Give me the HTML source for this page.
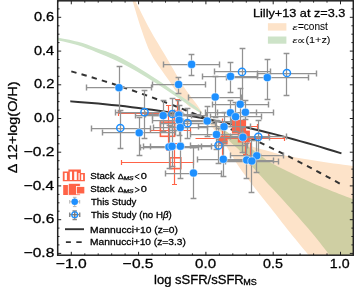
<!DOCTYPE html><html><head><meta charset="utf-8"><style>html,body{margin:0;padding:0;background:#fff;overflow:hidden}svg{display:block;will-change:transform}</style></head><body><svg width="354" height="287" viewBox="0 0 354 287"><defs><clipPath id="ax"><rect x="57.8" y="0.8" width="295.5" height="254.4"/></clipPath></defs><g clip-path="url(#ax)">
<path d="M132.00,-1.00 C133.60,4.17 138.33,20.67 141.60,30.00 C144.87,39.33 147.10,46.67 151.60,55.00 C156.10,63.33 164.43,73.83 168.60,80.00 C172.77,86.17 173.45,87.83 176.60,92.00 C179.75,96.17 183.10,101.33 187.50,105.00 C191.90,108.67 200.42,112.50 203.00,114.00L203.00,114.00 C202.03,112.50 199.80,108.67 197.20,105.00 C194.60,101.33 190.33,96.17 187.40,92.00 C184.47,87.83 183.33,86.17 179.60,80.00 C175.87,73.83 169.90,63.33 165.00,55.00 C160.10,46.67 155.30,39.33 150.20,30.00 C145.10,20.67 137.03,4.17 134.40,-1.00 Z" fill="#fde3c9"/>
<path d="M203.00,114.00 C205.00,115.67 210.50,120.58 215.00,124.00 C219.50,127.42 224.17,130.92 230.00,134.50 C235.83,138.08 243.33,142.67 250.00,145.50 C256.67,148.33 264.33,149.88 270.00,151.50 C275.67,153.12 275.83,153.58 284.00,155.20 C292.17,156.82 307.33,159.37 319.00,161.20 C330.67,163.03 348.17,165.37 354.00,166.20 L354,256.2L309.50,256.20 C306.18,252.17 296.18,240.18 289.60,232.00 C283.02,223.82 278.07,217.43 270.00,207.10 C261.93,196.77 248.83,180.73 241.20,170.00 C233.57,159.27 228.90,149.70 224.20,142.70 C219.50,135.70 216.53,132.78 213.00,128.00 C209.47,123.22 204.67,116.33 203.00,114.00 Z" fill="#fde3c9"/>
<path d="M57.00,37.50 C60.50,38.22 71.50,40.07 78.00,41.80 C84.50,43.53 89.67,45.67 96.00,47.90 C102.33,50.13 109.33,52.15 116.00,55.20 C122.67,58.25 129.17,62.15 136.00,66.20 C142.83,70.25 150.33,75.07 157.00,79.50 C163.67,83.93 169.50,88.27 176.00,92.80 C182.50,97.33 191.50,103.17 196.00,106.70 C200.50,110.23 201.83,112.78 203.00,114.00L203.00,114.00 C201.83,113.33 200.50,112.92 196.00,110.00 C191.50,107.08 182.67,100.97 176.00,96.50 C169.33,92.03 162.67,87.45 156.00,83.20 C149.33,78.95 142.67,74.77 136.00,71.00 C129.33,67.23 122.67,63.78 116.00,60.60 C109.33,57.42 102.33,54.47 96.00,51.90 C89.67,49.33 84.50,47.20 78.00,45.20 C71.50,43.20 60.50,40.78 57.00,39.90 Z" fill="#cde3c8"/>
<path d="M203.00,114.00 C205.83,116.17 214.50,123.00 220.00,127.00 C225.50,131.00 230.00,133.83 236.00,138.00 C242.00,142.17 250.33,147.95 256.00,152.00 C261.67,156.05 265.33,159.38 270.00,162.30 C274.67,165.22 276.67,165.93 284.00,169.50 C291.33,173.07 302.33,178.70 314.00,183.70 C325.67,188.70 347.33,196.87 354.00,199.50 L354,256.2L330.50,256.20 C327.28,252.17 319.12,241.37 311.20,232.00 C303.28,222.63 292.32,210.33 283.00,200.00 C273.68,189.67 262.27,178.00 255.30,170.00 C248.33,162.00 245.67,157.02 241.20,152.00 C236.73,146.98 232.87,144.57 228.50,139.90 C224.13,135.23 219.25,128.32 215.00,124.00 C210.75,119.68 205.00,115.67 203.00,114.00 Z" fill="#cfcfa3"/>
<path d="M71.3,101.4 L78.0,101.9 L84.8,102.4 L91.5,102.9 L98.2,103.5 L105.0,104.2 L111.7,104.9 L118.4,105.6 L125.1,106.3 L131.9,107.2 L138.6,108.0 L145.3,108.9 L152.1,109.8 L158.8,110.8 L165.5,111.8 L172.2,112.9 L179.0,114.0 L185.7,115.1 L192.4,116.3 L199.2,117.6 L205.9,118.8 L212.6,120.2 L219.4,121.5 L226.1,122.9 L232.8,124.4 L239.6,125.8 L246.3,127.4 L253.0,128.9 L259.7,130.5 L266.5,132.2 L273.2,133.9 L279.9,135.6 L286.7,137.4 L293.4,139.2 L300.1,141.1 L306.9,143.0 L313.6,144.9 L320.3,146.9 L327.0,149.0 L333.8,151.0 L340.5,153.1" fill="none" stroke="#333" stroke-width="2" stroke-linecap="square"/>
<path d="M71.3,71.4 L78.0,73.3 L84.8,75.2 L91.5,77.2 L98.2,79.3 L105.0,81.4 L111.7,83.5 L118.4,85.7 L125.1,88.0 L131.9,90.2 L138.6,92.6 L145.3,95.0 L152.1,97.4 L158.8,99.8 L165.5,102.4 L172.2,104.9 L179.0,107.5 L185.7,110.2 L192.4,112.9 L199.2,115.6 L205.9,118.4 L212.6,121.3 L219.4,124.1 L226.1,127.1 L232.8,130.0 L239.6,133.1 L246.3,136.1 L253.0,139.3 L259.7,142.4 L266.5,145.6 L273.2,148.9 L279.9,152.2 L286.7,155.5 L293.4,158.9 L300.1,162.4 L306.9,165.9 L313.6,169.4 L320.3,173.0 L327.0,176.6 L333.8,180.3 L340.5,184.0" fill="none" stroke="#333" stroke-width="2" stroke-dasharray="5.4,5.2"/>
<path d="M121.5,162.5H193.5M121.5,160.0V165.0M193.5,160.0V165.0M174.5,143.5V184.5M172.0,143.5H177.0M172.0,184.5H177.0M150.5,130.5H190.5M150.5,128.0V133.0M190.5,128.0V133.0M168.5,105.5V150.5M166.0,105.5H171.0M166.0,150.5H171.0M177.5,99.5V122.5M175.0,99.5H180.0M118.5,113.5H165.5M118.5,111.0V116.0M220.5,126.5H257.5M220.5,124.0V129.0M257.5,124.0V129.0M239.5,132.5V140.5M219.5,136.5H268.5M219.5,134.0V139.0M268.5,134.0V139.0M245.5,118.5V154.5M243.0,154.5H248.0M195.5,138.5H284.5M284.5,136.0V141.0M222.5,118.5V157.5M220.0,157.5H225.0M250.5,142.5V165.5" stroke="#ff6347" stroke-width="1.2" fill="none"/>
<rect x="160.4" y="122.1" width="14.2" height="14.2" fill="none" stroke="#ff6347" stroke-width="1.6"/>
<rect x="169.9" y="157.8" width="10.9" height="10.8" fill="none" stroke="#ff6347" stroke-width="1.6"/>
<rect x="174.3" y="111.3" width="6.6" height="9.4" fill="none" stroke="#ff6347" stroke-width="1.6"/>
<rect x="231.9" y="119.8" width="13.9" height="13.8" fill="#ff6347"/>
<rect x="218.8" y="135.6" width="8.8" height="8.8" fill="#ff6347"/>
<rect x="237.8" y="130.6" width="12.1" height="11.9" fill="#ff6347"/>
<path d="M86.5,87.5H151.5M119.5,66.5V112.5" stroke="#929292" stroke-width="1.25" fill="none"/>
<path d="M86.5,84.6V90.4M151.5,84.6V90.4M116.6,66.5H122.4M116.6,112.5H122.4" stroke="#929292" stroke-width="1.45" fill="none"/>
<path d="M163.5,64.5H219.5M191.5,54.5V75.5" stroke="#929292" stroke-width="1.25" fill="none"/>
<path d="M163.5,61.6V67.4M219.5,61.6V67.4M188.6,54.5H194.4M188.6,75.5H194.4" stroke="#929292" stroke-width="1.45" fill="none"/>
<path d="M152.5,84.5H205.5M178.5,77.5V93.5" stroke="#929292" stroke-width="1.25" fill="none"/>
<path d="M152.5,81.6V87.4M205.5,81.6V87.4M175.6,77.5H181.4M175.6,93.5H181.4" stroke="#929292" stroke-width="1.45" fill="none"/>
<path d="M202.5,76.5H257.5M230.5,62.5V92.5" stroke="#929292" stroke-width="1.25" fill="none"/>
<path d="M202.5,73.6V79.4M257.5,73.6V79.4M227.6,62.5H233.4M227.6,92.5H233.4" stroke="#929292" stroke-width="1.45" fill="none"/>
<path d="M214.5,71.5H270.5M242.5,48.5V102.5" stroke="#929292" stroke-width="1.25" fill="none"/>
<path d="M214.5,68.6V74.4M270.5,68.6V74.4M239.6,48.5H245.4M239.6,102.5H245.4" stroke="#929292" stroke-width="1.45" fill="none"/>
<path d="M226.5,77.5H308.5M267.5,59.5V99.5" stroke="#929292" stroke-width="1.25" fill="none"/>
<path d="M226.5,74.6V80.4M308.5,74.6V80.4M264.6,59.5H270.4M264.6,99.5H270.4" stroke="#929292" stroke-width="1.45" fill="none"/>
<path d="M257.5,73.5H316.5M286.5,53.5V95.5" stroke="#929292" stroke-width="1.25" fill="none"/>
<path d="M257.5,70.6V76.4M316.5,70.6V76.4M283.6,53.5H289.4M283.6,95.5H289.4" stroke="#929292" stroke-width="1.45" fill="none"/>
<path d="M188.5,97.5H241.5M215.5,76.5V117.5" stroke="#929292" stroke-width="1.25" fill="none"/>
<path d="M188.5,94.6V100.4M241.5,94.6V100.4M212.6,76.5H218.4M212.6,117.5H218.4" stroke="#929292" stroke-width="1.45" fill="none"/>
<path d="M212.5,104.5H268.5M240.5,88.5V132.5" stroke="#929292" stroke-width="1.25" fill="none"/>
<path d="M212.5,101.6V107.4M268.5,101.6V107.4M237.6,88.5H243.4M237.6,132.5H243.4" stroke="#929292" stroke-width="1.45" fill="none"/>
<path d="M205.5,112.5H256.5M230.5,100.5V126.5" stroke="#929292" stroke-width="1.25" fill="none"/>
<path d="M205.5,109.6V115.4M256.5,109.6V115.4M227.6,100.5H233.4M227.6,126.5H233.4" stroke="#929292" stroke-width="1.45" fill="none"/>
<path d="M217.5,112.5H273.5M245.5,100.5V119.5" stroke="#929292" stroke-width="1.25" fill="none"/>
<path d="M217.5,109.6V115.4M273.5,109.6V115.4M242.6,100.5H248.4M242.6,119.5H248.4" stroke="#929292" stroke-width="1.45" fill="none"/>
<path d="M210.5,116.5H261.5M235.5,102.5V131.5" stroke="#929292" stroke-width="1.25" fill="none"/>
<path d="M210.5,113.6V119.4M261.5,113.6V119.4M232.6,102.5H238.4M232.6,131.5H238.4" stroke="#929292" stroke-width="1.45" fill="none"/>
<path d="M198.5,126.5H250.5M224.5,112.5V141.5" stroke="#929292" stroke-width="1.25" fill="none"/>
<path d="M198.5,123.6V129.4M250.5,123.6V129.4M221.6,112.5H227.4M221.6,141.5H227.4" stroke="#929292" stroke-width="1.45" fill="none"/>
<path d="M190.5,134.5H243.5M216.5,120.5V149.5" stroke="#929292" stroke-width="1.25" fill="none"/>
<path d="M190.5,131.6V137.4M243.5,131.6V137.4M213.6,120.5H219.4M213.6,149.5H219.4" stroke="#929292" stroke-width="1.45" fill="none"/>
<path d="M217.5,137.5H269.5M242.5,127.5V152.5" stroke="#929292" stroke-width="1.25" fill="none"/>
<path d="M217.5,134.6V140.4M269.5,134.6V140.4M239.6,127.5H245.4M239.6,152.5H245.4" stroke="#929292" stroke-width="1.45" fill="none"/>
<path d="M230.5,136.5H286.5M258.5,120.5V154.5" stroke="#929292" stroke-width="1.25" fill="none"/>
<path d="M230.5,133.6V139.4M286.5,133.6V139.4M255.6,120.5H261.4M255.6,154.5H261.4" stroke="#929292" stroke-width="1.45" fill="none"/>
<path d="M190.5,145.5H247.5M218.5,128.5V163.5" stroke="#929292" stroke-width="1.25" fill="none"/>
<path d="M190.5,142.6V148.4M247.5,142.6V148.4M215.6,128.5H221.4M215.6,163.5H221.4" stroke="#929292" stroke-width="1.45" fill="none"/>
<path d="M230.5,155.5H283.5M256.5,140.5V172.5" stroke="#929292" stroke-width="1.25" fill="none"/>
<path d="M230.5,152.6V158.4M283.5,152.6V158.4M253.6,140.5H259.4M253.6,172.5H259.4" stroke="#929292" stroke-width="1.45" fill="none"/>
<path d="M197.5,159.5H250.5M223.5,143.5V176.5" stroke="#929292" stroke-width="1.25" fill="none"/>
<path d="M197.5,156.6V162.4M250.5,156.6V162.4M220.6,143.5H226.4M220.6,176.5H226.4" stroke="#929292" stroke-width="1.45" fill="none"/>
<path d="M220.5,160.5H273.5M246.5,143.5V178.5" stroke="#929292" stroke-width="1.25" fill="none"/>
<path d="M220.5,157.6V163.4M273.5,157.6V163.4M243.6,143.5H249.4M243.6,178.5H249.4" stroke="#929292" stroke-width="1.45" fill="none"/>
<path d="M225.5,161.5H278.5M251.5,140.5V192.5" stroke="#929292" stroke-width="1.25" fill="none"/>
<path d="M225.5,158.6V164.4M278.5,158.6V164.4M248.6,140.5H254.4M248.6,192.5H254.4" stroke="#929292" stroke-width="1.45" fill="none"/>
<path d="M165.5,173.5H221.5M193.5,147.5V198.5" stroke="#929292" stroke-width="1.25" fill="none"/>
<path d="M165.5,170.6V176.4M221.5,170.6V176.4M190.6,147.5H196.4M190.6,198.5H196.4" stroke="#929292" stroke-width="1.45" fill="none"/>
<path d="M150.5,146.5H211.5M180.5,114.5V178.5" stroke="#929292" stroke-width="1.25" fill="none"/>
<path d="M150.5,143.6V149.4M211.5,143.6V149.4M177.6,114.5H183.4M177.6,178.5H183.4" stroke="#929292" stroke-width="1.45" fill="none"/>
<path d="M140.5,147.5H198.5M169.5,125.5V168.5" stroke="#929292" stroke-width="1.25" fill="none"/>
<path d="M140.5,144.6V150.4M198.5,144.6V150.4M166.6,125.5H172.4M166.6,168.5H172.4" stroke="#929292" stroke-width="1.45" fill="none"/>
<path d="M143.5,146.5H201.5M172.5,126.5V166.5" stroke="#929292" stroke-width="1.25" fill="none"/>
<path d="M143.5,143.6V149.4M201.5,143.6V149.4M169.6,126.5H175.4M169.6,166.5H175.4" stroke="#929292" stroke-width="1.45" fill="none"/>
<path d="M135.5,115.5H191.5M163.5,100.5V131.5" stroke="#929292" stroke-width="1.25" fill="none"/>
<path d="M135.5,112.6V118.4M191.5,112.6V118.4M160.6,100.5H166.4M160.6,131.5H166.4" stroke="#929292" stroke-width="1.45" fill="none"/>
<path d="M145.5,114.5H200.5M172.5,98.5V130.5" stroke="#929292" stroke-width="1.25" fill="none"/>
<path d="M145.5,111.6V117.4M200.5,111.6V117.4M169.6,98.5H175.4M169.6,130.5H175.4" stroke="#929292" stroke-width="1.45" fill="none"/>
<path d="M152.5,115.5H206.5M178.5,100.5V130.5" stroke="#929292" stroke-width="1.25" fill="none"/>
<path d="M152.5,112.6V118.4M206.5,112.6V118.4M175.6,100.5H181.4M175.6,130.5H181.4" stroke="#929292" stroke-width="1.45" fill="none"/>
<path d="M152.5,120.5H206.5M179.5,105.5V135.5" stroke="#929292" stroke-width="1.25" fill="none"/>
<path d="M152.5,117.6V123.4M206.5,117.6V123.4M176.6,105.5H182.4M176.6,135.5H182.4" stroke="#929292" stroke-width="1.45" fill="none"/>
<path d="M153.5,127.5H207.5M180.5,112.5V143.5" stroke="#929292" stroke-width="1.25" fill="none"/>
<path d="M153.5,124.6V130.4M207.5,124.6V130.4M177.6,112.5H183.4M177.6,143.5H183.4" stroke="#929292" stroke-width="1.45" fill="none"/>
<path d="M160.5,123.5H215.5M187.5,108.5V138.5" stroke="#929292" stroke-width="1.25" fill="none"/>
<path d="M160.5,120.6V126.4M215.5,120.6V126.4M184.6,108.5H190.4M184.6,138.5H190.4" stroke="#929292" stroke-width="1.45" fill="none"/>
<path d="M183.5,121.5H231.5M207.5,106.5V136.5" stroke="#929292" stroke-width="1.25" fill="none"/>
<path d="M183.5,118.6V124.4M231.5,118.6V124.4M204.6,106.5H210.4M204.6,136.5H210.4" stroke="#929292" stroke-width="1.45" fill="none"/>
<path d="M115.5,112.5H174.5M144.5,90.5V138.5" stroke="#929292" stroke-width="1.25" fill="none"/>
<path d="M115.5,109.6V115.4M174.5,109.6V115.4M141.6,90.5H147.4M141.6,138.5H147.4" stroke="#929292" stroke-width="1.45" fill="none"/>
<path d="M102.5,132.5H175.5M139.5,117.5V155.5" stroke="#929292" stroke-width="1.25" fill="none"/>
<path d="M102.5,129.6V135.4M175.5,129.6V135.4M136.6,117.5H142.4M136.6,155.5H142.4" stroke="#929292" stroke-width="1.45" fill="none"/>
<path d="M91.5,128.5H150.5M120.5,110.5V148.5" stroke="#929292" stroke-width="1.25" fill="none"/>
<path d="M91.5,125.6V131.4M150.5,125.6V131.4M117.6,110.5H123.4M117.6,148.5H123.4" stroke="#929292" stroke-width="1.45" fill="none"/>
<circle cx="119.0" cy="87.7" r="4.05" fill="#1e90ff" stroke="#fff" stroke-width="0.5"/>
<circle cx="191.6" cy="64.4" r="4.05" fill="#1e90ff" stroke="#fff" stroke-width="0.5"/>
<circle cx="178.6" cy="84.5" r="4.05" fill="#1e90ff" stroke="#fff" stroke-width="0.5"/>
<circle cx="230.5" cy="76.4" r="4.05" fill="#1e90ff" stroke="#fff" stroke-width="0.5"/>
<circle cx="242.0" cy="71.9" r="3.6" fill="none" stroke="#1e90ff" stroke-width="1.5"/>
<circle cx="267.3" cy="77.6" r="4.05" fill="#1e90ff" stroke="#fff" stroke-width="0.5"/>
<circle cx="286.9" cy="73.0" r="3.6" fill="none" stroke="#1e90ff" stroke-width="1.5"/>
<circle cx="215.2" cy="97.0" r="4.05" fill="#1e90ff" stroke="#fff" stroke-width="0.5"/>
<circle cx="240.2" cy="104.3" r="4.05" fill="#1e90ff" stroke="#fff" stroke-width="0.5"/>
<circle cx="230.5" cy="112.8" r="4.05" fill="#1e90ff" stroke="#fff" stroke-width="0.5"/>
<circle cx="245.4" cy="112.3" r="4.05" fill="#1e90ff" stroke="#fff" stroke-width="0.5"/>
<circle cx="235.6" cy="116.7" r="4.05" fill="#1e90ff" stroke="#fff" stroke-width="0.5"/>
<circle cx="224.0" cy="126.7" r="4.05" fill="#1e90ff" stroke="#fff" stroke-width="0.5"/>
<circle cx="216.5" cy="134.5" r="4.05" fill="#1e90ff" stroke="#fff" stroke-width="0.5"/>
<circle cx="242.9" cy="137.2" r="4.05" fill="#1e90ff" stroke="#fff" stroke-width="0.5"/>
<circle cx="258.3" cy="136.8" r="3.6" fill="none" stroke="#1e90ff" stroke-width="1.5"/>
<circle cx="218.5" cy="145.4" r="3.6" fill="none" stroke="#1e90ff" stroke-width="1.5"/>
<circle cx="256.7" cy="155.8" r="4.05" fill="#1e90ff" stroke="#fff" stroke-width="0.5"/>
<circle cx="223.3" cy="159.2" r="4.05" fill="#1e90ff" stroke="#fff" stroke-width="0.5"/>
<circle cx="246.7" cy="160.0" r="4.05" fill="#1e90ff" stroke="#fff" stroke-width="0.5"/>
<circle cx="251.8" cy="161.0" r="4.05" fill="#1e90ff" stroke="#fff" stroke-width="0.5"/>
<circle cx="193.5" cy="173.0" r="4.05" fill="#1e90ff" stroke="#fff" stroke-width="0.5"/>
<circle cx="180.4" cy="146.3" r="4.05" fill="#1e90ff" stroke="#fff" stroke-width="0.5"/>
<circle cx="169.0" cy="147.0" r="4.05" fill="#1e90ff" stroke="#fff" stroke-width="0.5"/>
<circle cx="172.0" cy="146.4" r="4.05" fill="#1e90ff" stroke="#fff" stroke-width="0.5"/>
<circle cx="163.2" cy="115.6" r="4.05" fill="#1e90ff" stroke="#fff" stroke-width="0.5"/>
<circle cx="172.3" cy="114.0" r="3.6" fill="none" stroke="#1e90ff" stroke-width="1.5"/>
<circle cx="178.8" cy="115.0" r="4.05" fill="#1e90ff" stroke="#fff" stroke-width="0.5"/>
<circle cx="179.2" cy="120.3" r="4.05" fill="#1e90ff" stroke="#fff" stroke-width="0.5"/>
<circle cx="180.3" cy="127.5" r="4.05" fill="#1e90ff" stroke="#fff" stroke-width="0.5"/>
<circle cx="187.5" cy="123.2" r="3.6" fill="none" stroke="#1e90ff" stroke-width="1.5"/>
<circle cx="207.2" cy="121.0" r="4.05" fill="#1e90ff" stroke="#fff" stroke-width="0.5"/>
<circle cx="144.5" cy="112.2" r="3.6" fill="none" stroke="#1e90ff" stroke-width="1.5"/>
<circle cx="139.2" cy="132.8" r="4.05" fill="#1e90ff" stroke="#fff" stroke-width="0.5"/>
<circle cx="120.3" cy="128.0" r="3.6" fill="none" stroke="#1e90ff" stroke-width="1.5"/>
</g>
<path d="M57.8,255.2V253.4M57.8,0.8V2.6M71.3,255.2V251.8M71.3,0.8V4.3M84.8,255.2V253.4M84.8,0.8V2.6M98.2,255.2V253.4M98.2,0.8V2.6M111.7,255.2V253.4M111.7,0.8V2.6M125.1,255.2V253.4M125.1,0.8V2.6M138.6,255.2V251.8M138.6,0.8V4.3M152.1,255.2V253.4M152.1,0.8V2.6M165.5,255.2V253.4M165.5,0.8V2.6M179.0,255.2V253.4M179.0,0.8V2.6M192.4,255.2V253.4M192.4,0.8V2.6M205.9,255.2V251.8M205.9,0.8V4.3M219.4,255.2V253.4M219.4,0.8V2.6M232.8,255.2V253.4M232.8,0.8V2.6M246.3,255.2V253.4M246.3,0.8V2.6M259.7,255.2V253.4M259.7,0.8V2.6M273.2,255.2V251.8M273.2,0.8V4.3M286.7,255.2V253.4M286.7,0.8V2.6M300.1,255.2V253.4M300.1,0.8V2.6M313.6,255.2V253.4M313.6,0.8V2.6M327.0,255.2V253.4M327.0,0.8V2.6M340.5,255.2V251.8M340.5,0.8V4.3M354.0,255.2V253.4M354.0,0.8V2.6M57.7,253.4H61.2M353.2,253.4H349.8M57.7,244.9H59.5M353.2,244.9H351.4M57.7,236.5H59.5M353.2,236.5H351.4M57.7,228.1H59.5M353.2,228.1H351.4M57.7,219.7H61.2M353.2,219.7H349.8M57.7,211.2H59.5M353.2,211.2H351.4M57.7,202.8H59.5M353.2,202.8H351.4M57.7,194.4H59.5M353.2,194.4H351.4M57.7,185.9H61.2M353.2,185.9H349.8M57.7,177.5H59.5M353.2,177.5H351.4M57.7,169.1H59.5M353.2,169.1H351.4M57.7,160.7H59.5M353.2,160.7H351.4M57.7,152.2H61.2M353.2,152.2H349.8M57.7,143.8H59.5M353.2,143.8H351.4M57.7,135.4H59.5M353.2,135.4H351.4M57.7,126.9H59.5M353.2,126.9H351.4M57.7,118.5H61.2M353.2,118.5H349.8M57.7,110.1H59.5M353.2,110.1H351.4M57.7,101.6H59.5M353.2,101.6H351.4M57.7,93.2H59.5M353.2,93.2H351.4M57.7,84.8H61.2M353.2,84.8H349.8M57.7,76.3H59.5M353.2,76.3H351.4M57.7,67.9H59.5M353.2,67.9H351.4M57.7,59.5H59.5M353.2,59.5H351.4M57.7,51.1H61.2M353.2,51.1H349.8M57.7,42.6H59.5M353.2,42.6H351.4M57.7,34.2H59.5M353.2,34.2H351.4M57.7,25.8H59.5M353.2,25.8H351.4M57.7,17.3H61.2M353.2,17.3H349.8M57.7,8.9H59.5M353.2,8.9H351.4" stroke="#222" stroke-width="1" fill="none"/>
<rect x="57.7" y="0.8" width="295.6" height="254.4" fill="none" stroke="#222" stroke-width="1.5"/>
<text transform="matrix(0.14580 0 0 0.12817 33.917 20.912)" font-size="100" font-family="Liberation Sans, sans-serif" fill="#000" stroke="#000" stroke-width="2.34">0.6</text>
<text transform="matrix(0.14470 0 0 0.12817 33.921 54.632)" font-size="100" font-family="Liberation Sans, sans-serif" fill="#000" stroke="#000" stroke-width="2.35">0.4</text>
<text transform="matrix(0.14692 0 0 0.12817 33.912 88.352)" font-size="100" font-family="Liberation Sans, sans-serif" fill="#000" stroke="#000" stroke-width="2.33">0.2</text>
<text transform="matrix(0.14580 0 0 0.12817 33.917 122.072)" font-size="100" font-family="Liberation Sans, sans-serif" fill="#000" stroke="#000" stroke-width="2.34">0.0</text>
<text transform="matrix(0.15561 0 0 0.12817 23.722 155.792)" font-size="100" font-family="Liberation Sans, sans-serif" fill="#000" stroke="#000" stroke-width="2.27">−0.2</text>
<text transform="matrix(0.15397 0 0 0.12817 23.730 189.512)" font-size="100" font-family="Liberation Sans, sans-serif" fill="#000" stroke="#000" stroke-width="2.28">−0.4</text>
<text transform="matrix(0.15479 0 0 0.12817 23.726 223.232)" font-size="100" font-family="Liberation Sans, sans-serif" fill="#000" stroke="#000" stroke-width="2.27">−0.6</text>
<text transform="matrix(0.15479 0 0 0.12817 23.726 256.952)" font-size="100" font-family="Liberation Sans, sans-serif" fill="#000" stroke="#000" stroke-width="2.27">−0.8</text>
<text transform="matrix(0.15638 0 0 0.13521 55.918 268.065)" font-size="100" font-family="Liberation Sans, sans-serif" fill="#000" stroke="#000" stroke-width="2.20">−1.0</text>
<text transform="matrix(0.15532 0 0 0.13521 122.823 268.065)" font-size="100" font-family="Liberation Sans, sans-serif" fill="#000" stroke="#000" stroke-width="2.21">−0.5</text>
<text transform="matrix(0.15115 0 0 0.13521 195.095 268.065)" font-size="100" font-family="Liberation Sans, sans-serif" fill="#000" stroke="#000" stroke-width="2.24">0.0</text>
<text transform="matrix(0.14275 0 0 0.13521 263.029 268.065)" font-size="100" font-family="Liberation Sans, sans-serif" fill="#000" stroke="#000" stroke-width="2.30">0.5</text>
<text transform="matrix(0.14173 0 0 0.13521 329.866 268.065)" font-size="100" font-family="Liberation Sans, sans-serif" fill="#000" stroke="#000" stroke-width="2.31">1.0</text>
<text transform="matrix(0.13043 0 0 0.12055 153.987 283.800)" font-size="100" font-family="Liberation Sans, sans-serif" fill="#000" stroke="#000" stroke-width="2.39">log sSFR/sSFR</text>
<text transform="matrix(0.09051 0 0 0.08143 243.276 285.300)" font-size="100" font-family="Liberation Sans, sans-serif" fill="#000" stroke="#000" stroke-width="3.49">MS</text>
<text transform="matrix(0 -0.14418 0.12609 0 16.500 173.133)" font-size="100" font-family="Liberation Sans, sans-serif" fill="#000" stroke="#000" stroke-width="2.23">Δ 12+log(O/H)</text>
<text transform="matrix(0.12696 0 0 0.11781 252.984 16.800)" font-size="100" font-family="Liberation Sans, sans-serif" fill="#000" stroke="#000" stroke-width="2.45">Lilly+13 at z=3.3</text>
<text transform="matrix(0.11628 0 0 0.06727 292.467 29.833)" font-size="100" font-family="Liberation Sans, sans-serif" fill="#000" stroke="#000" stroke-width="0.57"><tspan font-style="italic">ε</tspan></text>
<text transform="matrix(0.10103 0 0 0.10312 297.895 29.700)" font-size="100" font-family="Liberation Sans, sans-serif" fill="#000" stroke="#000" stroke-width="0.49">=const</text>
<text transform="matrix(0.11163 0 0 0.07818 292.477 42.822)" font-size="100" font-family="Liberation Sans, sans-serif" fill="#000" stroke="#000" stroke-width="0.54"><tspan font-style="italic">ε</tspan></text>
<text transform="matrix(0.12000 0 0 0.10263 297.380 44.029)" font-size="100" font-family="Liberation Sans, sans-serif" fill="#000" stroke="#000" stroke-width="0.45">∝</text>
<text transform="matrix(0.10872 0 0 0.08191 305.448 42.680)" font-size="100" font-family="Liberation Sans, sans-serif" fill="#000" stroke="#000" stroke-width="0.53">(1+z)</text>
<rect x="267.9" y="23.2" width="18.5" height="7.4" fill="#fde3c9"/>
<rect x="267.9" y="36.5" width="18.5" height="7.2" fill="#cde3c8"/>
<text transform="matrix(0.09714 0 0 0.09452 90.214 178.500)" font-size="100" font-family="Liberation Sans, sans-serif" fill="#000" stroke="#000" stroke-width="3.13">Stack</text>
<text transform="matrix(0.08852 0 0 0.07391 117.634 178.700)" font-size="100" font-family="Liberation Sans, sans-serif" fill="#000" stroke="#000" stroke-width="3.71">Δ</text>
<g transform="translate(123.300 179.900) skewX(-10) translate(-123.300 -179.900)"><text transform="matrix(0.06715 0 0 0.05429 123.263 179.900)" font-size="100" font-family="Liberation Sans, sans-serif" fill="#000" stroke="#000" stroke-width="4.97">MS</text></g>
<path d="M139.4,174.2L134.9,176.6L139.4,179.0" fill="none" stroke="#000" stroke-width="0.95"/>
<text transform="matrix(0.11042 0 0 0.09859 140.658 179.201)" font-size="100" font-family="Liberation Sans, sans-serif" fill="#000" stroke="#000" stroke-width="2.88">0</text>
<text transform="matrix(0.09714 0 0 0.09452 90.214 191.700)" font-size="100" font-family="Liberation Sans, sans-serif" fill="#000" stroke="#000" stroke-width="3.13">Stack</text>
<text transform="matrix(0.08852 0 0 0.07391 117.634 191.900)" font-size="100" font-family="Liberation Sans, sans-serif" fill="#000" stroke="#000" stroke-width="3.71">Δ</text>
<g transform="translate(123.300 193.100) skewX(-10) translate(-123.300 -193.100)"><text transform="matrix(0.06715 0 0 0.05429 123.263 193.100)" font-size="100" font-family="Liberation Sans, sans-serif" fill="#000" stroke="#000" stroke-width="4.97">MS</text></g>
<path d="M134.9,187.4L139.4,189.8L134.9,192.2" fill="none" stroke="#000" stroke-width="0.95"/>
<text transform="matrix(0.11042 0 0 0.09859 140.658 192.401)" font-size="100" font-family="Liberation Sans, sans-serif" fill="#000" stroke="#000" stroke-width="2.88">0</text>
<text transform="matrix(0.09660 0 0 0.09315 90.907 205.200)" font-size="100" font-family="Liberation Sans, sans-serif" fill="#000" stroke="#000" stroke-width="3.16">This Study</text>
<text transform="matrix(0.09674 0 0 0.09589 90.907 218.400)" font-size="100" font-family="Liberation Sans, sans-serif" fill="#000" stroke="#000" stroke-width="3.11">This Study (no H<tspan font-style="italic">β</tspan>)</text>
<text transform="matrix(0.10285 0 0 0.09452 90.077 232.500)" font-size="100" font-family="Liberation Sans, sans-serif" fill="#000" stroke="#000" stroke-width="3.04">Mannucci+10 (z=0)</text>
<text transform="matrix(0.10205 0 0 0.09589 90.084 245.400)" font-size="100" font-family="Liberation Sans, sans-serif" fill="#000" stroke="#000" stroke-width="3.03">Mannucci+10 (z=3.3)</text>
<path d="M62.8,181.3V171.4H68.4V169.6H80.9V172.9H84.9V181.3Z" fill="#ff6347"/>
<rect x="64.6" y="173.0" width="2.3" height="7.0" fill="#fff"/>
<rect x="69.8" y="171.6" width="2.2" height="8.4" fill="#fff"/>
<rect x="74.2" y="171.6" width="2.6" height="8.4" fill="#fff"/>
<rect x="78.5" y="173.0" width="1.2" height="7.0" fill="#fff"/>
<rect x="81.2" y="174.4" width="1.9" height="5.6" fill="#fff"/>
<rect x="63.2" y="185" width="9" height="10" fill="#ff6347"/>
<rect x="68.3" y="183.3" width="12" height="12" fill="#ff6347" stroke="#fff" stroke-width="0.8"/>
<rect x="76.4" y="186.5" width="8.4" height="7.4" fill="#ff6347" stroke="#fff" stroke-width="0.8"/>
<path d="M69.7,201.8H79.7M74.7,197.3V206.6" stroke="#b5b5b5" stroke-width="1.0" fill="none"/>
<path d="M69.7,200.0V203.6M79.7,200.0V203.6M72.9,197.3H76.5M72.9,206.6H76.5" stroke="#b5b5b5" stroke-width="1.0" fill="none"/>
<circle cx="74.7" cy="201.8" r="3.3" fill="#1e90ff"/>
<path d="M69.7,214.7H79.7M74.7,210.9V219.5" stroke="#888" stroke-width="1.25" fill="none"/>
<path d="M69.7,212.5V216.9M79.7,212.5V216.9M72.5,210.9H76.9M72.5,219.5H76.9" stroke="#888" stroke-width="1.45" fill="none"/>
<circle cx="74.7" cy="214.7" r="2.9" fill="none" stroke="#1e90ff" stroke-width="1.3"/>
<path d="M72.3,214.7H77.1M74.7,212.3V217.1" stroke="#777" stroke-width="0.9"/>
<path d="M65,229.2H84" stroke="#333" stroke-width="1.9"/>
<path d="M65.9,242.1H70.9M76.3,242.1H81.7" stroke="#333" stroke-width="1.9"/></svg></body></html>
